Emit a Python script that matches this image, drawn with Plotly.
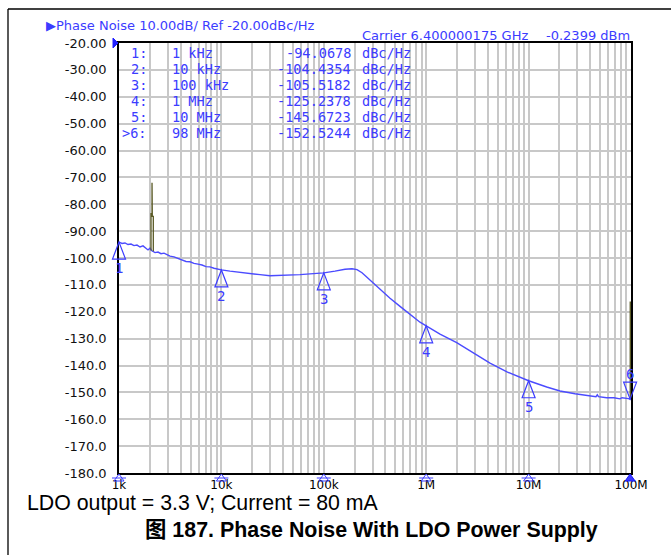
import numpy as np
import plotly.graph_objects as go

# ---- measured phase noise trace (offset frequency in Hz, dBc/Hz) ----
freq_hz = [
    1000, 1070, 1144, 1224, 1310, 1401, 1499, 1604, 1716, 1835, 1920, 2008, 2077,
    2247, 2404, 2572, 2751, 2943, 3148, 3444, 3770, 4123, 4511, 4936, 5400, 5908,
    6464, 7072, 7738, 8466, 9264, 10000,
    12130, 15190, 19020, 23820, 29830, 37350, 46770, 58570, 73340, 100000,
    128600, 161100, 188600, 211000, 236100, 270200, 309300, 353900, 443200,
    554900, 694900, 870100, 1.0e6,
    1.364e6, 1.986e6, 2.864e6, 4.198e6, 6.152e6, 1.0e7,
    1.503e7, 2.026e7, 2.839e7, 3.978e7, 4.551e7, 4.687e7, 4.815e7, 5.790e7,
    6.823e7, 7.808e7, 8.167e7, 9.454e7, 9.8e7, 1.0e8,
]
noise_dbc = [
    -94.07, -94.6, -94.4, -95.0, -94.8, -95.4, -95.2, -95.9, -95.5, -96.6, -97.0, -96.3, -97.2,
    -98.0, -97.8, -98.4, -98.2, -98.7, -99.3, -99.6, -100.2, -100.6, -101.3, -101.4, -102.0, -102.3,
    -102.6, -103.2, -103.3, -103.8, -104.0, -104.44,
    -104.9, -105.4, -105.8, -106.2, -106.6, -106.5, -106.4, -106.2, -105.9, -105.52,
    -104.9, -104.2, -104.0, -104.3, -105.5, -107.5, -109.6, -111.8, -115.0,
    -118.0, -121.0, -123.9, -125.24,
    -128.3, -131.5, -135.3, -139.1, -142.4, -145.67,
    -148.0, -149.5, -150.5, -151.2, -151.6, -150.9, -151.6, -152.0,
    -152.0, -152.4, -152.0, -152.3, -152.52, -152.3,
]

# ---- discrete spurs drawn in the spur colour ----
spur1_hz = [2054, 2054, 2101, 2101, 2115, 2163, 2163]
spur1_dbc = [-97.2, -83.5, -83.5, -72.0, -84.5, -84.5, -97.5]
spur2_hz = [9.93e7, 9.93e7]
spur2_dbc = [-152.3, -116.2]

# ---- marker table ----
marker_ids = ["1:", "2:", "3:", "4:", "5:", ">6:"]
marker_freq_text = ["1 kHz", "10 kHz", "100 kHz", "1 MHz", "10 MHz", "98 MHz"]
marker_hz = [1e3, 1e4, 1e5, 1e6, 1e7, 9.8e7]
marker_dbc = [-94.0678, -104.4354, -105.5182, -125.2378, -145.6723, -152.5244]
active_marker = 5

# ---- axes ----
x_ticks_hz = [1e3, 1e4, 1e5, 1e6, 1e7, 1e8]
x_tick_text = ["1k", "10k", "100k", "1M", "10M", "100M"]
y_ticks = list(range(-20, -181, -10))
y_tick_text = [f"{v:.2f}" if v > -100 else f"{v:.1f}" for v in y_ticks]

X_LOG_RANGE = [3, 8]
Y_RANGE = [-180, -20]

BLUE = "#3c3cff"
TRACE_BLUE = "#4b4bff"
SPUR = "#5a5a26"
GRID = "#c8c8c8"


def paper_x(f):
    return (np.log10(f) - X_LOG_RANGE[0]) / (X_LOG_RANGE[1] - X_LOG_RANGE[0])


def paper_y(v):
    return (v - Y_RANGE[0]) / (Y_RANGE[1] - Y_RANGE[0])


minor_x = [m * 10 ** d for d in range(3, 8) for m in range(2, 10)]

fig = go.Figure()
fig.add_trace(go.Scatter(x=freq_hz, y=noise_dbc, mode="lines",
                         line=dict(color=TRACE_BLUE, width=1.4), hoverinfo="skip"))
fig.add_trace(go.Scatter(x=spur1_hz, y=spur1_dbc, mode="lines",
                         line=dict(color=SPUR, width=1.3), hoverinfo="skip"))
fig.add_trace(go.Scatter(x=spur2_hz, y=spur2_dbc, mode="lines",
                         line=dict(color=SPUR, width=2.2), hoverinfo="skip"))

shapes = []
annotations = []

# outer instrument frame
shapes.append(dict(type="line", xref="paper", yref="paper", xsizemode="pixel", ysizemode="pixel",
                   xanchor=0, yanchor=1, x0=-111, y0=34, x1=560, y1=34,
                   line=dict(color="black", width=1.3)))
shapes.append(dict(type="line", xref="paper", yref="paper", xsizemode="pixel", ysizemode="pixel",
                   xanchor=0, yanchor=1, x0=-111, y0=34, x1=-111, y1=-520,
                   line=dict(color="black", width=1.3)))

# reference level pointer
shapes.append(dict(type="path", xref="paper", yref="paper", xsizemode="pixel", ysizemode="pixel",
                   xanchor=0, yanchor=1, path="M-6,5 L-1,0 L-6,-5 Z",
                   fillcolor="#2020ff", line=dict(color="#2020ff", width=1)))

# markers on the trace and on the frequency axis
for i, (f, v) in enumerate(zip(marker_hz, marker_dbc)):
    px, py = paper_x(f), paper_y(v)
    if i == active_marker:
        tri = "M0,0 L-6.5,17 L6.5,17 Z"
        label_shift = 25
    else:
        tri = "M0,0 L-6.5,-17 L6.5,-17 Z"
        label_shift = -26
    shapes.append(dict(type="path", xref="paper", yref="paper", xsizemode="pixel", ysizemode="pixel",
                       xanchor=px, yanchor=py, path=tri,
                       line=dict(color=BLUE, width=1.2)))
    annotations.append(dict(x=np.log10(f), y=v, xref="x", yref="y", text=str(i + 1),
                            showarrow=False, yshift=label_shift,
                            font=dict(family="DejaVu Sans Mono", size=14, color=BLUE)))
    # axis indicator
    axis_tri = "M0,-1 L-5,-8 L5,-8 Z"
    shapes.append(dict(type="path", xref="paper", yref="paper", xsizemode="pixel", ysizemode="pixel",
                       xanchor=px, yanchor=0, path=axis_tri,
                       fillcolor=BLUE if i == active_marker else "rgba(0,0,0,0)",
                       line=dict(color=BLUE if i != active_marker else "#1515ff", width=1)))
    if i != active_marker:
        shapes.append(dict(type="line", xref="paper", yref="paper", xsizemode="pixel",
                           ysizemode="pixel", xanchor=px, yanchor=0,
                           x0=-7, x1=7, y0=-5, y1=-5, line=dict(color=BLUE, width=1)))

# marker readout table
row_y0 = 1 + 6 / 430
row_step = 16 / 430
mono = dict(family="DejaVu Sans Mono", size=13.6, color=BLUE)
cell = dict(xref="paper", yref="paper", yanchor="middle", showarrow=False,
            font=mono, borderpad=0)
for i in range(len(marker_ids)):
    yy = row_y0 - (i + 1) * row_step
    annotations.append(dict(cell, x=(148 - 119) / 512, y=yy, text=marker_ids[i],
                            xanchor="right"))
    annotations.append(dict(cell, x=(171 - 119) / 512, y=yy, text=marker_freq_text[i],
                            xanchor="left"))
    annotations.append(dict(cell, x=(352 - 119) / 512, y=yy, text=f"{marker_dbc[i]:.4f}",
                            xanchor="right"))
    annotations.append(dict(cell, x=(361 - 119) / 512, y=yy, text="dBc/Hz",
                            xanchor="left"))

hdr = dict(family="DejaVu Sans", size=13, color=BLUE)
annotations.append(dict(x=(45 - 119) / 512, y=1 + 18 / 430, xref="paper", yref="paper",
                        text="▶Phase Noise 10.00dB/ Ref -20.00dBc/Hz", xanchor="left",
                        yanchor="middle", showarrow=False, font=hdr, borderpad=0))
annotations.append(dict(x=(361 - 119) / 512, y=1 + 8 / 430, xref="paper", yref="paper",
                        text="Carrier 6.400000175 GHz", xanchor="left", yanchor="middle",
                        showarrow=False, font=hdr, borderpad=0))
annotations.append(dict(x=1, y=1 + 8 / 430, xref="paper", yref="paper",
                        text="-0.2399 dBm", xanchor="right", yanchor="middle",
                        showarrow=False, font=hdr, borderpad=0))

# captions
annotations.append(dict(x=(25 - 119) / 512, y=-(503 - 473) / 430, xref="paper", yref="paper",
                        text="LDO output = 3.3 V; Current = 80 mA", xanchor="left",
                        yanchor="middle", showarrow=False,
                        font=dict(family="Liberation Sans, Noto Sans CJK SC", size=21.3,
                                  color="black")))
annotations.append(dict(x=(371 - 119) / 512, y=-(530 - 473) / 430, xref="paper", yref="paper",
                        text="<b>图 187. Phase Noise With LDO Power Supply</b>", xanchor="center",
                        yanchor="middle", showarrow=False,
                        font=dict(family="Liberation Sans, Noto Sans CJK SC", size=21.4,
                                  color="black")))

fig.update_layout(
    width=671, height=555,
    margin=dict(l=119, r=40, t=43, b=82),
    paper_bgcolor="white", plot_bgcolor="white",
    showlegend=False,
    shapes=shapes, annotations=annotations,
    xaxis=dict(type="log", range=X_LOG_RANGE, tickvals=x_ticks_hz, ticktext=x_tick_text,
               showgrid=True, gridcolor=GRID, gridwidth=1.5,
               minor=dict(tickvals=minor_x, showgrid=True, gridcolor=GRID, gridwidth=1.5),
               showline=True, linecolor="black", linewidth=1.5, mirror=True,
               ticks="", zeroline=False,
               tickfont=dict(family="DejaVu Sans", size=12, color="black")),
    yaxis=dict(range=Y_RANGE, tickvals=y_ticks, ticktext=y_tick_text,
               showgrid=True, gridcolor=GRID, gridwidth=1.5,
               showline=True, linecolor="black", linewidth=1.5, mirror=True,
               ticks="", zeroline=False, ticklabelstandoff=8,
               tickfont=dict(family="DejaVu Sans", size=13, color="#111111")),
)

fig.write_html("out.html")
